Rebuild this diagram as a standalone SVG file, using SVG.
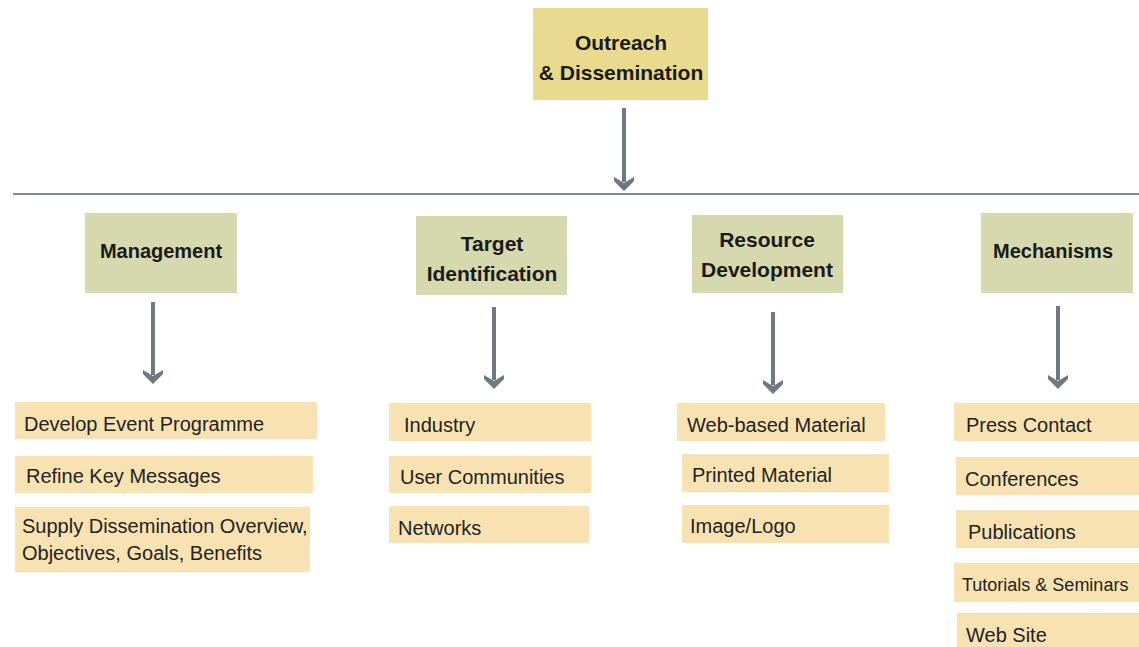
<svg xmlns="http://www.w3.org/2000/svg" width="1139" height="647" viewBox="0 0 1139 647">
<defs>
<style>
.top{fill:#e8db8e}
.sub{fill:#d6d8ad}
.item{fill:#f8e2b2}
.h{font-family:"Liberation Sans",Arial,sans-serif;font-weight:bold;font-size:21px;fill:#1a1a1a;text-anchor:middle}
.h20{font-size:20px}
.t{font-family:"Liberation Sans",Arial,sans-serif;font-size:20px;fill:#222}
.t18{font-size:18px}
.conn{stroke:#6f7a80;stroke-width:4;fill:none}
.ah{fill:#6f7a80}
</style>
</defs>
<rect width="1139" height="647" fill="#ffffff"/>
<g id="connectors">
<line x1="13" y1="194" x2="1139" y2="194" stroke="#7e8a90" stroke-width="2"/>
<line class="conn" x1="624" y1="108" x2="624" y2="182"/>
<path class="ah" d="M614,177 L624,183 L634,177 L634,181 L624,191 L614,181 Z"/>
<line class="conn" x1="153" y1="302" x2="153" y2="375"/>
<path class="ah" d="M143,370 L153,376 L163,370 L163,374 L153,384 L143,374 Z"/>
<line class="conn" x1="494" y1="307" x2="494" y2="380"/>
<path class="ah" d="M484,375 L494,381 L504,375 L504,379 L494,389 L484,379 Z"/>
<line class="conn" x1="773" y1="312" x2="773" y2="385"/>
<path class="ah" d="M763,380 L773,386 L783,380 L783,384 L773,394 L763,384 Z"/>
<line class="conn" x1="1058" y1="306" x2="1058" y2="380"/>
<path class="ah" d="M1048,375 L1058,381 L1068,375 L1068,379 L1058,389 L1048,379 Z"/>
</g>
<g id="outreach">
<rect class="top" x="533" y="8" width="175" height="92"/>
<text class="h" x="621" y="50">Outreach</text>
<text class="h" x="621" y="80">&amp; Dissemination</text>
</g>
<g id="management">
<rect class="sub" x="85" y="213" width="152" height="80"/>
<text class="h h20" x="161" y="258">Management</text>
</g>
<g id="target">
<rect class="sub" x="416" y="216" width="151" height="79"/>
<text class="h" x="492" y="251">Target</text>
<text class="h" x="492" y="281">Identification</text>
</g>
<g id="resource">
<rect class="sub" x="692" y="215" width="151" height="78"/>
<text class="h" x="767" y="247">Resource</text>
<text class="h" x="767" y="277">Development</text>
</g>
<g id="mechanisms">
<rect class="sub" x="981" y="213" width="152" height="80"/>
<text class="h h20" x="1053" y="258">Mechanisms</text>
</g>
<g id="m1"><rect class="item" x="15" y="402" width="302" height="37"/><text class="t" x="24" y="431">Develop Event Programme</text></g>
<g id="m2"><rect class="item" x="15" y="456" width="298" height="37"/><text class="t" x="26" y="483">Refine Key Messages</text></g>
<g id="m3"><rect class="item" x="15" y="507" width="295" height="65"/><text class="t" x="22" y="533">Supply Dissemination Overview,</text><text class="t" x="22" y="560">Objectives, Goals, Benefits</text></g>
<g id="t1"><rect class="item" x="389" y="403" width="202" height="38"/><text class="t" x="404" y="432">Industry</text></g>
<g id="t2"><rect class="item" x="389" y="456" width="202" height="37"/><text class="t" x="400" y="484">User Communities</text></g>
<g id="t3"><rect class="item" x="389" y="506" width="200" height="37"/><text class="t" x="398" y="535">Networks</text></g>
<g id="r1"><rect class="item" x="677" y="403" width="208" height="38"/><text class="t" x="687" y="432">Web-based Material</text></g>
<g id="r2"><rect class="item" x="682" y="454" width="207" height="38"/><text class="t" x="692" y="482">Printed Material</text></g>
<g id="r3"><rect class="item" x="682" y="505" width="207" height="38"/><text class="t" x="690" y="533">Image/Logo</text></g>
<g id="c1"><rect class="item" x="954" y="403" width="185" height="38"/><text class="t" x="966" y="432">Press Contact</text></g>
<g id="c2"><rect class="item" x="956" y="457" width="183" height="38"/><text class="t" x="965" y="486">Conferences</text></g>
<g id="c3"><rect class="item" x="956" y="510" width="183" height="38"/><text class="t" x="968" y="539">Publications</text></g>
<g id="c4"><rect class="item" x="954" y="563" width="185" height="39"/><text class="t t18" x="962" y="591">Tutorials &amp; Seminars</text></g>
<g id="c5"><rect class="item" x="957" y="613" width="182" height="34"/><text class="t" x="966" y="642">Web Site</text></g>
</svg>
